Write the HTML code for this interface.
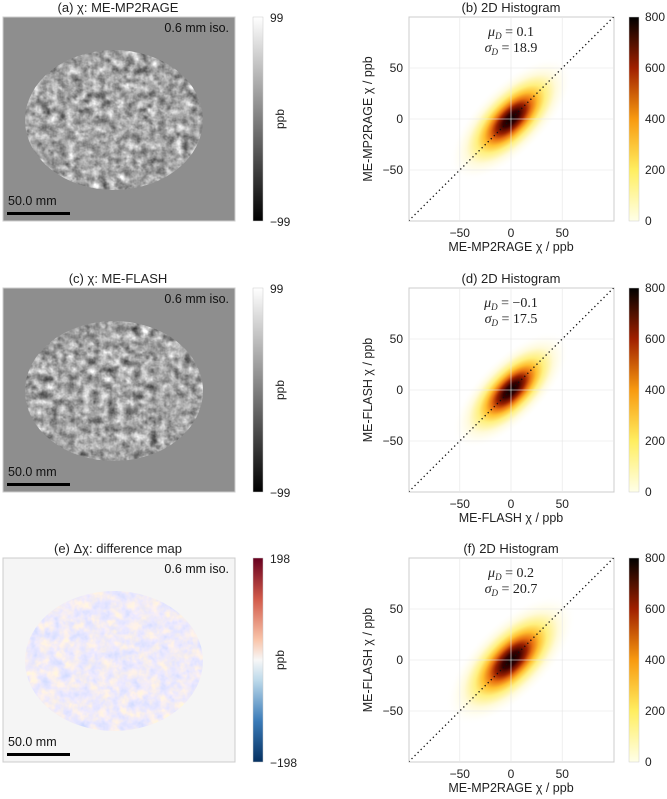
<!DOCTYPE html>
<html><head><meta charset="utf-8"><style>
html,body{margin:0;padding:0;background:#fff;}
svg{display:block;font-family:"Liberation Sans",sans-serif;}
</style></head><body>
<svg id="fig" width="667" height="799" viewBox="0 0 667 799">
<defs>
<linearGradient id="gray" x1="0" y1="1" x2="0" y2="0"><stop offset="0" stop-color="#000"/><stop offset="1" stop-color="#fff"/></linearGradient>
<linearGradient id="rdbu" x1="0" y1="1" x2="0" y2="0">
<stop offset="0" stop-color="#053061"/><stop offset="0.2" stop-color="#3a7bb8"/><stop offset="0.4" stop-color="#bcd9ea"/><stop offset="0.5" stop-color="#f7f7f7"/><stop offset="0.6" stop-color="#f9c4a9"/><stop offset="0.8" stop-color="#d15a4a"/><stop offset="1" stop-color="#67001f"/></linearGradient>
<linearGradient id="hot" x1="0" y1="1" x2="0" y2="0">
<stop offset="0" stop-color="#ffffe8"/><stop offset="0.25" stop-color="#ffee60"/><stop offset="0.5" stop-color="#f89a10"/><stop offset="0.75" stop-color="#a02000"/><stop offset="1" stop-color="#000"/></linearGradient>
<radialGradient id="dens">
<stop offset="0" stop-color="#0a0000"/><stop offset="0.13" stop-color="#3a0000"/><stop offset="0.24" stop-color="#9a2000"/><stop offset="0.33" stop-color="#e87010"/><stop offset="0.43" stop-color="#ffc030"/><stop offset="0.55" stop-color="#fff080"/><stop offset="0.72" stop-color="#fffad8"/><stop offset="1" stop-color="#ffffff" stop-opacity="0"/></radialGradient>
<filter id="texg" x="0" y="0" width="100%" height="100%" color-interpolation-filters="sRGB">
<feTurbulence type="fractalNoise" baseFrequency="0.12" numOctaves="3" seed="3"/>
<feColorMatrix type="matrix" values="0.33 0.33 0.33 0 0  0.33 0.33 0.33 0 0  0.33 0.33 0.33 0 0  0 0 0 0 1"/>
<feComponentTransfer><feFuncR type="linear" slope="1.5" intercept="-0.1"/><feFuncG type="linear" slope="1.5" intercept="-0.1"/><feFuncB type="linear" slope="1.5" intercept="-0.1"/></feComponentTransfer>
</filter>
<filter id="texd" x="0" y="0" width="100%" height="100%" color-interpolation-filters="sRGB">
<feTurbulence type="fractalNoise" baseFrequency="0.1" numOctaves="3" seed="7"/>
<feColorMatrix type="matrix" values="0.2 0 -0.2 0 0.94  0.1 0 -0.1 0 0.92  -0.15 0 0.25 0 0.92  0 0 0 0 1"/>
</filter>
</defs>
</svg>
<script>
const rowTitlesL=["(a) \u03C7: ME-MP2RAGE","(c) \u03C7: ME-FLASH","(e) \u0394\u03C7: difference map"];
const rowTitlesR=["(b) 2D Histogram","(d) 2D Histogram","(f) 2D Histogram"];
const xLabels=["ME-MP2RAGE \u03C7 / ppb","ME-FLASH \u03C7 / ppb","ME-MP2RAGE \u03C7 / ppb"];
const yLabels=["ME-MP2RAGE \u03C7 / ppb","ME-FLASH \u03C7 / ppb","ME-FLASH \u03C7 / ppb"];
const muD=["0.1","\u22120.1","0.2"];
const sigmaD=["18.9","17.5","20.7"];
const spreadMajor=[78,74,82];
const spreadMinor=[34,32,37];
const axisTicks=[-50,0,50];
const cbarTicks=[0,200,400,600,800];
const mapRange=[99,99,198];
const svg=document.getElementById('fig');
const NS='http://www.w3.org/2000/svg';
function el(tag,attrs,parent,txt){const e=document.createElementNS(NS,tag);for(const k in attrs)e.setAttribute(k,attrs[k]);if(txt!==undefined)e.textContent=txt;(parent||svg).appendChild(e);return e;}
const AX0=409,AX1=614,xs=v=>511+v*1.025;
for(let r=0;r<3;r++){
  const dy=Math.round(r*270.5);
  const top=17+dy,bot=221+dy,ys=v=>119+dy-v*1.02;
  const g=el('g',{},svg);
  const t=el('text',{x:118,y:12+dy,'text-anchor':'middle','font-size':13,fill:'#222'},g,rowTitlesL[r]);
  
  const diff=r===2;
  el('rect',{x:3,y:top,width:232,height:204,fill:diff?'#f5f5f5':'#8e8e8e',stroke:'#ccc'},g);
  const cp=el('clipPath',{id:'cp'+r},g);el('ellipse',{cx:114,cy:120+dy,rx:89,ry:70},cp);
  const tex=el('rect',{x:20,y:45+dy,width:190,height:150,filter:diff?'url(#texd)':'url(#texg)','clip-path':'url(#cp'+r+')'},g);
  
  el('text',{x:229,y:32+dy,'text-anchor':'end','font-size':12.5,fill:'#111'},g,'0.6 mm iso.');
  el('text',{x:8,y:205+dy,'font-size':12.5,fill:'#111'},g,'50.0 mm');
  const sb=el('rect',{x:7,y:212+dy,width:63,height:3,fill:'#000'},g);
  
  const cb=el('rect',{x:253,y:top,width:10,height:204,fill:diff?'url(#rdbu)':'url(#gray)',stroke:'#ccc','stroke-width':0.5},g);
  
  el('text',{x:270,y:top+5,'font-size':12,fill:'#222'},g,String(mapRange[r]));
  el('text',{x:270,y:bot+5,'font-size':12,fill:'#222'},g,'\u2212'+mapRange[r]);
  el('text',{x:0,y:0,'font-size':12,fill:'#222','text-anchor':'middle',transform:`translate(284,${119+dy}) rotate(-90)`},g,'ppb');
  const h=el('g',{},svg);
  el('text',{x:511,y:12+dy,'text-anchor':'middle','font-size':13,fill:'#222'},h,rowTitlesR[r]);
  el('rect',{x:AX0,y:top,width:AX1-AX0,height:bot-top,fill:'#fff',stroke:'#ccc'},h);
  const hc=el('clipPath',{id:'hc'+r},h);el('rect',{x:AX0,y:top,width:AX1-AX0,height:bot-top},hc);
  const d=el('ellipse',{cx:xs(0),cy:ys(0),rx:spreadMajor[r]*1.025,ry:spreadMinor[r]*1.025,fill:'url(#dens)',transform:`rotate(-45 ${xs(0)} ${ys(0)})`,'clip-path':'url(#hc'+r+')'},h);
  
  axisTicks.forEach(v=>{
    el('line',{x1:xs(v),x2:xs(v),y1:top,y2:bot,stroke:'#e6e6e6','stroke-width':0.8,'stroke-opacity':0.8},h);
    el('line',{x1:AX0,x2:AX1,y1:ys(v),y2:ys(v),stroke:'#e6e6e6','stroke-width':0.8,'stroke-opacity':0.8},h);
    el('text',{x:xs(v),y:bot+16,'text-anchor':'middle','font-size':12,fill:'#222'},h,v<0?'\u2212'+(-v):String(v));
    el('text',{x:AX0-6,y:ys(v)+4,'text-anchor':'end','font-size':12,fill:'#222'},h,v<0?'\u2212'+(-v):String(v));
  });
  const idl=el('line',{x1:xs(-100),y1:ys(-100),x2:xs(100),y2:ys(100),stroke:'#111','stroke-width':1.3,'stroke-dasharray':'1.3 3','clip-path':'url(#hc'+r+')'},h);
  
  el('text',{x:511,y:36+dy,'text-anchor':'middle','font-size':14,'font-family':'Liberation Serif',fill:'#222'},h,'').innerHTML='<tspan font-style="italic">\u03BC</tspan><tspan font-size="9" dy="3" font-style="italic">D</tspan><tspan dy="-3"> = '+muD[r]+'</tspan>';
  el('text',{x:511,y:52+dy,'text-anchor':'middle','font-size':14,'font-family':'Liberation Serif',fill:'#222'},h,'').innerHTML='<tspan font-style="italic">\u03C3</tspan><tspan font-size="9" dy="3" font-style="italic">D</tspan><tspan dy="-3"> = '+sigmaD[r]+'</tspan>';
  el('text',{x:511,y:251+dy,'text-anchor':'middle','font-size':12.5,fill:'#222'},h,xLabels[r]);
  el('text',{x:0,y:0,'text-anchor':'middle','font-size':12.5,fill:'#222',transform:`translate(372,${119+dy}) rotate(-90)`},h,yLabels[r]);
  const hb=el('rect',{x:629,y:top,width:10,height:204,fill:'url(#hot)',stroke:'#ccc','stroke-width':0.5},h);
  
  cbarTicks.forEach(v=>{el('text',{x:645,y:bot-v/800*204+4,'font-size':12,fill:'#222'},h,String(v));});
}
</script>
</body></html>
